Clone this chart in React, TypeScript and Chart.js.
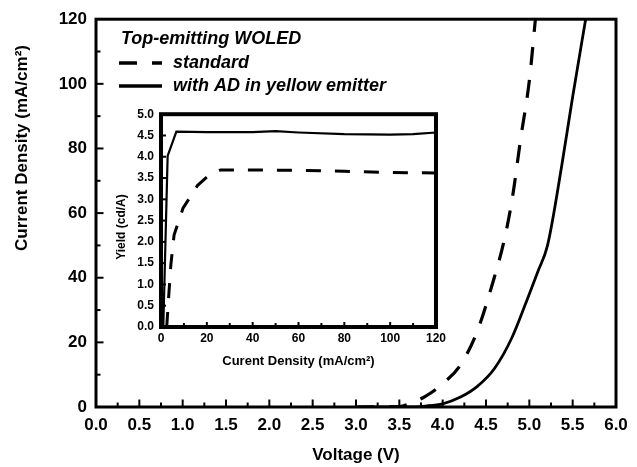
import React, { useEffect, useRef } from 'react';
import { Chart, registerables } from 'chart.js';

Chart.register(...registerables);

const FONT = '"Liberation Sans", Arial, Helvetica, sans-serif';

// Main plot: J-V curves
const voltageStandard = [3.0, 3.5, 3.6, 3.8, 4.0, 4.2, 4.4, 4.6, 4.7, 4.8, 4.9, 5.0, 5.07];
const currentStandard = [0, 0.1, 0.8, 3.3, 7.2, 12.8, 23.5, 40.5, 50.5, 64, 83, 101, 120];
const voltageAD = [3.0, 3.6, 3.8, 4.0, 4.2, 4.4, 4.6, 4.8, 5.0, 5.1, 5.21, 5.37, 5.5, 5.65];
const currentAD = [0, 0, 0.3, 1.0, 3.0, 6.4, 12, 21.5, 35, 42, 50, 74, 96, 120];

// Inset: yield vs current density
const insetCurrentStandard = [2.5, 3.2, 4.3, 5.7, 9.6, 16, 21, 26, 40, 60, 80, 100, 120];
const yieldStandard = [0, 0.6, 1.46, 2.16, 2.79, 3.33, 3.57, 3.69, 3.69, 3.68, 3.66, 3.63, 3.62];
const insetCurrentAD = [1, 2.9, 6.7, 20, 40, 50, 60, 80, 100, 110, 120];
const yieldAD = [0, 4.02, 4.59, 4.58, 4.58, 4.6, 4.57, 4.53, 4.52, 4.53, 4.57];

const legendTitle = 'Top-emitting WOLED';
const seriesNames = ['standard', 'with AD in yellow emitter'];
const mainXTitle = 'Voltage (V)';
const mainYTitle = 'Current Density (mA/cm\u00B2)';
const insetXTitle = 'Curent Density (mA/cm\u00B2)';
const insetYTitle = 'Yield (cd/A)';

const pts = (xs: number[], ys: number[]) => xs.map((x, i) => ({ x, y: ys[i] }));

type TickCfg = {
  xMajor: number; xMinor: number; yMajor: number; yMinor: number;
  majorLen: number; minorLen: number; tickWidth: number; frameWidth: number;
};

function frameTicks(cfg: TickCfg, extra?: (chart: any) => void) {
  return {
    id: 'frameTicks',
    afterDatasetsDraw(chart: any) {
      const { ctx, chartArea: a } = chart;
      const xs = chart.scales.x;
      const ys = chart.scales.y;
      ctx.save();
      ctx.strokeStyle = '#000';
      ctx.setLineDash([]);
      ctx.lineWidth = cfg.tickWidth;
      const inset = cfg.frameWidth / 2;
      const nx = Math.round((xs.max - xs.min) / cfg.xMinor);
      for (let i = 1; i < nx; i++) {
        const v = xs.min + i * cfg.xMinor;
        const r = v / cfg.xMajor;
        const major = Math.abs(r - Math.round(r)) < 1e-6;
        const len = major ? cfg.majorLen : cfg.minorLen;
        const px = xs.getPixelForValue(v);
        ctx.beginPath();
        ctx.moveTo(px, a.bottom);
        ctx.lineTo(px, a.bottom - inset - len);
        ctx.stroke();
      }
      const ny = Math.round((ys.max - ys.min) / cfg.yMinor);
      for (let i = 1; i < ny; i++) {
        const v = ys.min + i * cfg.yMinor;
        const r = v / cfg.yMajor;
        const major = Math.abs(r - Math.round(r)) < 1e-6;
        const len = major ? cfg.majorLen : cfg.minorLen;
        const py = ys.getPixelForValue(v);
        ctx.beginPath();
        ctx.moveTo(a.left, py);
        ctx.lineTo(a.left + inset + len, py);
        ctx.stroke();
      }
      ctx.lineWidth = cfg.frameWidth;
      ctx.strokeRect(a.left, a.top, a.right - a.left, a.bottom - a.top);
      ctx.restore();
    },
    afterDraw(chart: any) {
      if (extra) extra(chart);
    },
  };
}

export default function App() {
  const mainRef = useRef<HTMLCanvasElement>(null);
  const insetRef = useRef<HTMLCanvasElement>(null);

  useEffect(() => {
    document.body.style.margin = '0';
    const mainCanvas = mainRef.current!;
    const insetCanvas = insetRef.current!;

    const drawMainExtras = (chart: any) => {
      const { ctx } = chart;
      ctx.save();
      ctx.fillStyle = '#000';
      // y title
      ctx.font = `bold 17px ${FONT}`;
      ctx.textAlign = 'center';
      ctx.textBaseline = 'middle';
      ctx.save();
      ctx.translate(22, 148);
      ctx.rotate(-Math.PI / 2);
      ctx.fillText(mainYTitle, 0, 0);
      ctx.restore();
      // legend
      ctx.textAlign = 'left';
      ctx.font = `italic bold 18px ${FONT}`;
      ctx.fillText(legendTitle, 121, 39);
      ctx.strokeStyle = '#000';
      ctx.lineWidth = 3.4;
      ctx.lineCap = 'butt';
      ctx.setLineDash([18, 15]);
      ctx.beginPath();
      ctx.moveTo(119, 63);
      ctx.lineTo(162, 63);
      ctx.stroke();
      ctx.setLineDash([]);
      ctx.beginPath();
      ctx.moveTo(119, 86);
      ctx.lineTo(162, 86);
      ctx.stroke();
      ctx.fillText(seriesNames[0], 173, 63);
      ctx.fillText(seriesNames[1], 173, 86);
      ctx.restore();
    };

    const drawInsetExtras = (chart: any) => {
      const { ctx } = chart;
      ctx.save();
      ctx.fillStyle = '#000';
      ctx.font = `bold 12px ${FONT}`;
      ctx.textAlign = 'center';
      ctx.textBaseline = 'middle';
      ctx.translate(12, 127);
      ctx.rotate(-Math.PI / 2);
      ctx.fillText(insetYTitle, 0, 0);
      ctx.restore();
    };

    const mainChart = new Chart(mainCanvas, {
      type: 'line',
      data: {
        datasets: [
          {
            label: seriesNames[0],
            data: pts(voltageStandard, currentStandard),
            borderColor: '#000',
            borderWidth: 3.2,
            borderDash: [18, 15],
            pointRadius: 0,
            cubicInterpolationMode: 'monotone',
            fill: false,
          },
          {
            label: seriesNames[1],
            data: pts(voltageAD, currentAD),
            borderColor: '#000',
            borderWidth: 2.8,
            pointRadius: 0,
            cubicInterpolationMode: 'monotone',
            fill: false,
          },
        ],
      },
      options: {
        animation: false,
        responsive: false,
        devicePixelRatio: 1,
        layout: { padding: { left: 0, right: 21, top: 18, bottom: 0 } },
        plugins: { legend: { display: false }, tooltip: { enabled: false } },
        scales: {
          x: {
            type: 'linear',
            min: 0,
            max: 6,
            grid: { display: false, drawTicks: false },
            border: { display: false },
            ticks: {
              stepSize: 0.5,
              color: '#000',
              padding: 8,
              font: { family: FONT, size: 17, weight: 'bold' },
              callback: (v: any) => Number(v).toFixed(1),
            },
            title: {
              display: true,
              text: mainXTitle,
              color: '#000',
              font: { family: FONT, size: 17, weight: 'bold' },
              padding: { top: 0, bottom: 1 },
            },
            afterFit: (s: any) => { s.height = 60; },
          },
          y: {
            type: 'linear',
            min: 0,
            max: 120,
            grid: { display: false, drawTicks: false },
            border: { display: false },
            ticks: {
              stepSize: 20,
              color: '#000',
              padding: 9,
              font: { family: FONT, size: 17, weight: 'bold' },
            },
            afterFit: (s: any) => { s.width = 96; },
          },
        },
      },
      plugins: [
        frameTicks(
          { xMajor: 0.5, xMinor: 0.25, yMajor: 20, yMinor: 10, majorLen: 6, minorLen: 3, tickWidth: 2, frameWidth: 3 },
          drawMainExtras,
        ),
      ],
    } as any);

    const insetChart = new Chart(insetCanvas, {
      type: 'line',
      data: {
        datasets: [
          {
            label: seriesNames[0],
            data: pts(insetCurrentStandard, yieldStandard),
            borderColor: '#000',
            borderWidth: 3,
            borderDash: [15, 14],
            pointRadius: 0,
            tension: 0,
            fill: false,
          },
          {
            label: seriesNames[1],
            data: pts(insetCurrentAD, yieldAD),
            borderColor: '#000',
            borderWidth: 2.2,
            pointRadius: 0,
            tension: 0,
            fill: false,
          },
        ],
      },
      options: {
        animation: false,
        responsive: false,
        devicePixelRatio: 1,
        layout: { padding: { left: 0, right: 10, top: 14, bottom: 0 } },
        plugins: { legend: { display: false }, tooltip: { enabled: false } },
        scales: {
          x: {
            type: 'linear',
            min: 0,
            max: 120,
            grid: { display: false, drawTicks: false },
            border: { display: false },
            ticks: {
              stepSize: 20,
              color: '#000',
              padding: 4,
              font: { family: FONT, size: 12, weight: 'bold' },
            },
            title: {
              display: true,
              text: insetXTitle,
              color: '#000',
              font: { family: FONT, size: 13, weight: 'bold' },
              padding: { top: 0, bottom: 6 },
            },
            afterFit: (s: any) => { s.height = 48; },
          },
          y: {
            type: 'linear',
            min: 0,
            max: 5,
            grid: { display: false, drawTicks: false },
            border: { display: false },
            ticks: {
              stepSize: 0.5,
              color: '#000',
              padding: 7,
              font: { family: FONT, size: 12, weight: 'bold' },
              callback: (v: any) => Number(v).toFixed(1),
            },
            afterFit: (s: any) => { s.width = 51; },
          },
        },
      },
      plugins: [
        frameTicks(
          { xMajor: 20, xMinor: 10, yMajor: 0.5, yMinor: 0.5, majorLen: 3, minorLen: 2, tickWidth: 2, frameWidth: 4 },
          drawInsetExtras,
        ),
      ],
    } as any);

    return () => {
      mainChart.destroy();
      insetChart.destroy();
    };
  }, []);

  return (
    <div style={{ position: 'absolute', left: 0, top: 0, width: 637, height: 467, background: '#fff' }}>
      <canvas ref={mainRef} width={637} height={467} style={{ position: 'absolute', left: 0, top: 0 }} />
      <canvas ref={insetRef} width={340} height={275} style={{ position: 'absolute', left: 110, top: 100 }} />
    </div>
  );
}
